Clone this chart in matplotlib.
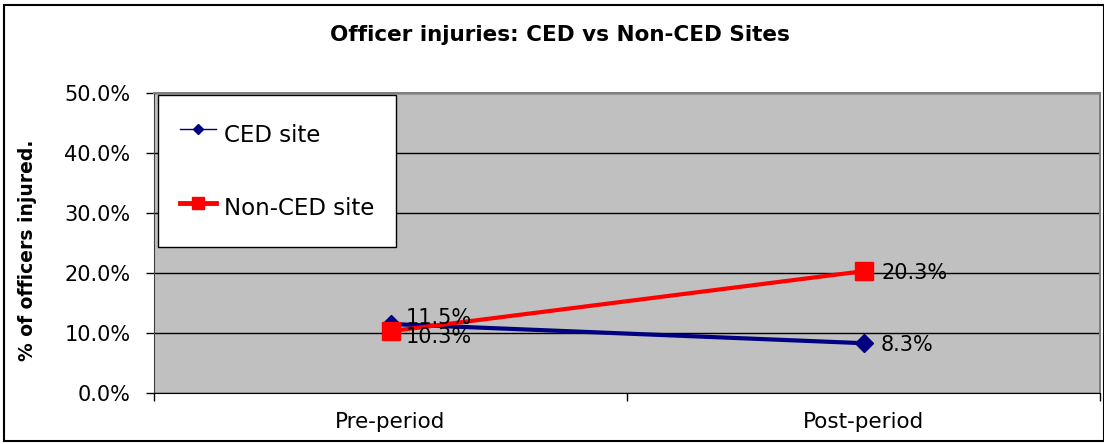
import matplotlib
matplotlib.use("Agg")
import matplotlib.pyplot as plt
from matplotlib.lines import Line2D
from matplotlib.patches import Rectangle
from matplotlib.ticker import FuncFormatter

# data
periods = ["Pre-period", "Post-period"]
ced_site = [11.5, 8.3]
non_ced_site = [10.3, 20.3]
series_names = ["CED site", "Non-CED site"]

plt.rcParams['font.family'] = 'DejaVu Sans'

fig = plt.figure(figsize=(11.04, 4.44), dpi=100)
ax = fig.add_axes([154/1104, 1 - 393/444, 946/1104, 300/444])
ax.set_facecolor('#C0C0C0')

x = list(range(len(periods)))

ax.plot(x, ced_site, color='#000080', lw=3, marker='D', ms=9.5, zorder=3)
ax.plot(x, non_ced_site, color='#FF0000', lw=3, marker='s', ms=12.5, zorder=4)

# value labels to the right of each point
lab_fs = 15
ax.annotate(f"{ced_site[0]:.1f}%", (x[0], ced_site[0]), xytext=(11, 4),
            textcoords='offset points', va='center', fontsize=lab_fs, zorder=5)
ax.annotate(f"{non_ced_site[0]:.1f}%", (x[0], non_ced_site[0]), xytext=(11, -4),
            textcoords='offset points', va='center', fontsize=lab_fs, zorder=5)
ax.annotate(f"{ced_site[1]:.1f}%", (x[1], ced_site[1]), xytext=(12, -1),
            textcoords='offset points', va='center', fontsize=lab_fs, zorder=5)
ax.annotate(f"{non_ced_site[1]:.1f}%", (x[1], non_ced_site[1]), xytext=(13, -1),
            textcoords='offset points', va='center', fontsize=lab_fs, zorder=5)

ax.set_xlim(-0.5, 1.5)
ax.set_ylim(0, 50)
ax.set_yticks(range(0, 51, 10))
ax.yaxis.set_major_formatter(FuncFormatter(lambda v, p: f"{v:.1f}%"))
ax.grid(axis='y', color='black', lw=1)
ax.set_axisbelow(True)

ax.set_xticks(x)
ax.set_xticklabels(periods)
ax.set_xticks([-0.5, 0.5, 1.5], minor=True)
ax.tick_params(axis='x', which='major', length=0, pad=14, labelsize=15.5)
ax.tick_params(axis='x', which='minor', length=6, width=1, direction='out')
ax.tick_params(axis='y', length=6, width=1, pad=11, labelsize=15)

for s in ['top', 'right']:
    ax.spines[s].set_color('#808080')
    ax.spines[s].set_linewidth(1.5)
ax.spines['left'].set_color('#404040')
ax.spines['bottom'].set_color('black')

handles = [
    Line2D([], [], color='#000080', lw=1, marker='D', ms=5),
    Line2D([], [], color='#FF0000', lw=3.5, marker='s', ms=9),
]
leg = ax.legend(handles, series_names, loc='upper left', bbox_to_anchor=(0.004, 0.993),
                borderaxespad=0, fontsize=16.5, fancybox=False, framealpha=1,
                edgecolor='black', handlelength=1.6, handleheight=2.0,
                labelspacing=1.65, borderpad=0.95, handletextpad=0.35)
leg.get_frame().set_linewidth(1)

fig.text(560/1104, 1 - 35/444, "Officer injuries: CED vs Non-CED Sites",
         ha='center', va='center', fontsize=15.5, fontweight='bold')
fig.text(28/1104, 1 - 250/444, "% of officers injured.", rotation=90,
         ha='center', va='center', fontsize=13.5, fontweight='bold')

# outer chart border
fig.patches.append(Rectangle((4/1104, 3/444), 1100/1104, 436/444, fill=False,
                             edgecolor='black', lw=1.5, transform=fig.transFigure))

fig.savefig("out.png", dpi=100)
